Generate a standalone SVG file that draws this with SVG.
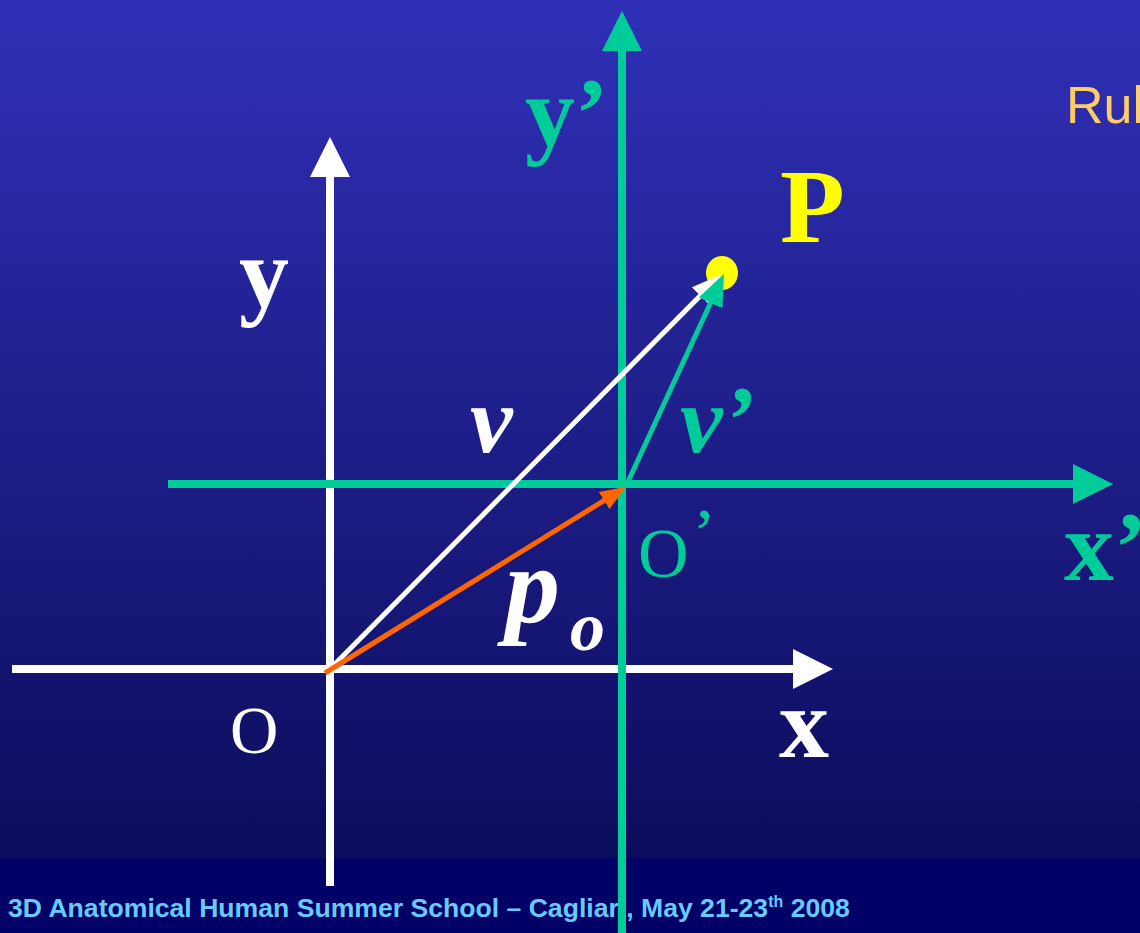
<svg xmlns="http://www.w3.org/2000/svg" width="1140" height="933" viewBox="0 0 1140 933">
  <defs>
    <linearGradient id="bg" x1="0" y1="0" x2="0" y2="1">
      <stop offset="0" stop-color="#3030b8"/>
      <stop offset="1" stop-color="#0c0c5c"/>
    </linearGradient>
    <marker id="axW" viewBox="0 -20 40 40" refX="1" refY="0" markerWidth="40" markerHeight="40" markerUnits="userSpaceOnUse" orient="auto">
      <path d="M0,-20 L40,0 L0,20 z" fill="#ffffff"/>
    </marker>
    <marker id="axG" viewBox="0 -20 40 40" refX="1" refY="0" markerWidth="40" markerHeight="40" markerUnits="userSpaceOnUse" orient="auto">
      <path d="M0,-20 L40,0 L0,20 z" fill="#00cc99"/>
    </marker>
    <marker id="vW" viewBox="0 -12 30 24" refX="1" refY="0" markerWidth="30" markerHeight="24" markerUnits="userSpaceOnUse" orient="auto">
      <path d="M0,-12 L30,0 L0,12 z" fill="#ffffff"/>
    </marker>
    <marker id="vG" viewBox="0 -13 32 26" refX="1" refY="0" markerWidth="32" markerHeight="26" markerUnits="userSpaceOnUse" orient="auto">
      <path d="M0,-13 L32,0 L0,13 z" fill="#00cc99"/>
    </marker>
    <marker id="vO" viewBox="0 -10 26 20" refX="1" refY="0" markerWidth="26" markerHeight="20" markerUnits="userSpaceOnUse" orient="auto">
      <path d="M0,-10 L26,0 L0,10 z" fill="#ff6600"/>
    </marker>
  </defs>
  <style>
    .ser { font-family: "Liberation Serif", "Times New Roman", serif; }
    .b { font-weight: bold; }
    .i { font-style: italic; }
    .w { fill: #ffffff; }
    .g { fill: #00cc99; }
    .axw { stroke: #ffffff; stroke-width: 8; fill: none; }
    .axg { stroke: #00cc99; stroke-width: 8; fill: none; }
    .vec { stroke-width: 5; fill: none; }
  </style>
  <rect x="0" y="0" width="1140" height="858" fill="url(#bg)"/>
  <rect x="0" y="858" width="1140" height="75" fill="#000066"/>

  <g id="footer">
    <text x="8" y="917" font-family="'Liberation Sans', Arial, sans-serif" font-weight="bold" font-size="26.6" fill="#66ccff">3D Anatomical Human Summer School – Cagliari, May 21-23<tspan font-size="16" dy="-10">th</tspan><tspan dy="10"> 2008</tspan></text>
  </g>
  <g id="rule-label">
    <text x="1066" y="123" font-family="'Liberation Sans', Arial, sans-serif" font-size="52" fill="#ffcc66">Rul</text>
  </g>

  <g id="point-P">
    <ellipse cx="722" cy="273" rx="16" ry="17" fill="#ffff00"/>
    <text class="ser b" x="780" y="242" font-size="106" fill="#ffff00">P</text>
  </g>

  <g id="connectors">
    <line id="axis-y" class="axw" x1="330" y1="886" x2="330" y2="176" marker-end="url(#axW)"/>
    <line id="axis-x" class="axw" x1="12" y1="669" x2="794" y2="669" marker-end="url(#axW)"/>
    <line id="axis-y2" class="axg" x1="622" y1="933" x2="622" y2="50" marker-end="url(#axG)"/>
    <line id="axis-x2" class="axg" x1="168" y1="484" x2="1074" y2="484" marker-end="url(#axG)"/>
    <line id="vec-v" class="vec" stroke="#ffffff" x1="330" y1="669" x2="701" y2="295" marker-end="url(#vW)"/>
    <line id="vec-v2" class="vec" stroke="#00cc99" stroke-width="6" x1="626" y1="486" x2="711" y2="302" marker-end="url(#vG)"/>
    <line id="vec-p0" class="vec" stroke="#ff6600" x1="325" y1="673" x2="605" y2="500" marker-end="url(#vO)"/>
  </g>

  <g id="label-y"><text class="ser b w" x="239" y="307" font-size="100">y</text></g>
  <g id="label-y2"><text class="ser b g" x="525" y="146" font-size="100">y’</text></g>
  <g id="label-v"><text class="ser b i w" x="470" y="452" font-size="96">v</text></g>
  <g id="label-v2"><text class="ser b i g" x="680" y="452" font-size="96">v’</text></g>
  <g id="label-O2"><text class="ser g" x="638" y="577" font-size="70">O<tspan dx="4" dy="-20">’</tspan></text></g>
  <g id="label-x2"><text class="ser b g" x="1064" y="580" font-size="100">x’</text></g>
  <g id="label-p0"><text class="ser b i w" x="505" y="623" font-size="110">p<tspan font-size="70" dx="10" dy="27">o</tspan></text></g>
  <g id="label-O"><text class="ser w" x="230" y="753" font-size="67">O</text></g>
  <g id="label-x"><text class="ser b w" x="779" y="757" font-size="100">x</text></g>
</svg>
